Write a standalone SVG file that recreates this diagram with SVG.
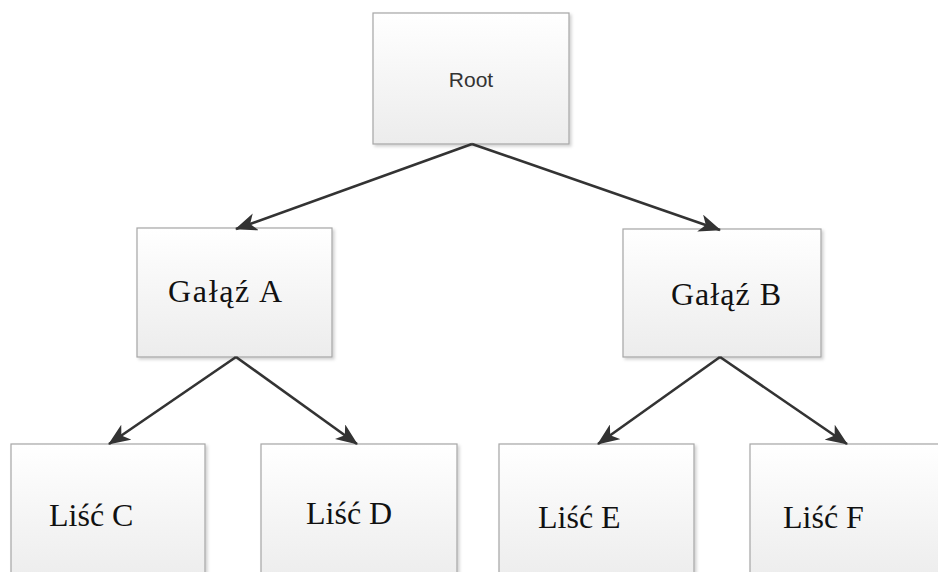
<svg xmlns="http://www.w3.org/2000/svg" width="938" height="572" viewBox="0 0 938 572">
<defs>
<linearGradient id="g" x1="0" y1="0" x2="0" y2="1">
<stop offset="0" stop-color="#ffffff"/>
<stop offset="1" stop-color="#ececec"/>
</linearGradient>
<marker id="ah" viewBox="0 0 22 18" refX="21" refY="9" markerWidth="22" markerHeight="18" markerUnits="userSpaceOnUse" orient="auto">
<path d="M0,0 L22,9 L0,18 L6,9 Z" fill="#333333"/>
</marker>
<filter id="sh" x="-5%" y="-5%" width="115%" height="115%">
<feDropShadow dx="2" dy="2" stdDeviation="1.5" flood-color="#000000" flood-opacity="0.18"/>
</filter>
</defs>
<style>
.box{fill:url(#g);stroke:#a6a6a6;stroke-width:1.2;filter:url(#sh)}
.ser{font-family:"Liberation Serif","Times New Roman",serif;font-size:32px;fill:#111}
.sans{font-family:"Liberation Sans",Arial,sans-serif;font-size:21px;fill:#333}
.con{stroke:#333333;stroke-width:2.6;fill:none;marker-end:url(#ah)}
</style>
<rect width="938" height="572" fill="#ffffff"/>
<g id="root"><rect class="box" x="373" y="13" width="196" height="131"/><text class="sans" x="471" y="87" text-anchor="middle">Root</text></g>
<g id="galaz-a"><rect class="box" x="137" y="228" width="195" height="129"/><text class="ser" x="168" y="302" textLength="114">Gałąź A</text></g>
<g id="galaz-b"><rect class="box" x="623" y="229" width="198" height="128"/><text class="ser" x="671" y="305" textLength="110">Gałąź B</text></g>
<g id="lisc-c"><rect class="box" x="11" y="444" width="194" height="140"/><text class="ser" x="49" y="526">Liść C</text></g>
<g id="lisc-d"><rect class="box" x="261" y="444" width="196" height="140"/><text class="ser" x="306" y="524">Liść D</text></g>
<g id="lisc-e"><rect class="box" x="499" y="444" width="195" height="140"/><text class="ser" x="538" y="528">Liść E</text></g>
<g id="lisc-f"><rect class="box" x="750" y="444" width="196" height="140"/><text class="ser" x="783" y="528">Liść F</text></g>
<g id="connectors">
<line class="con" x1="472" y1="144" x2="236" y2="229"/>
<line class="con" x1="472" y1="144" x2="720" y2="230"/>
<line class="con" x1="236" y1="357" x2="109" y2="444"/>
<line class="con" x1="236" y1="357" x2="357" y2="444"/>
<line class="con" x1="720" y1="357" x2="598" y2="444"/>
<line class="con" x1="720" y1="357" x2="847" y2="444"/>
</g>
</svg>
